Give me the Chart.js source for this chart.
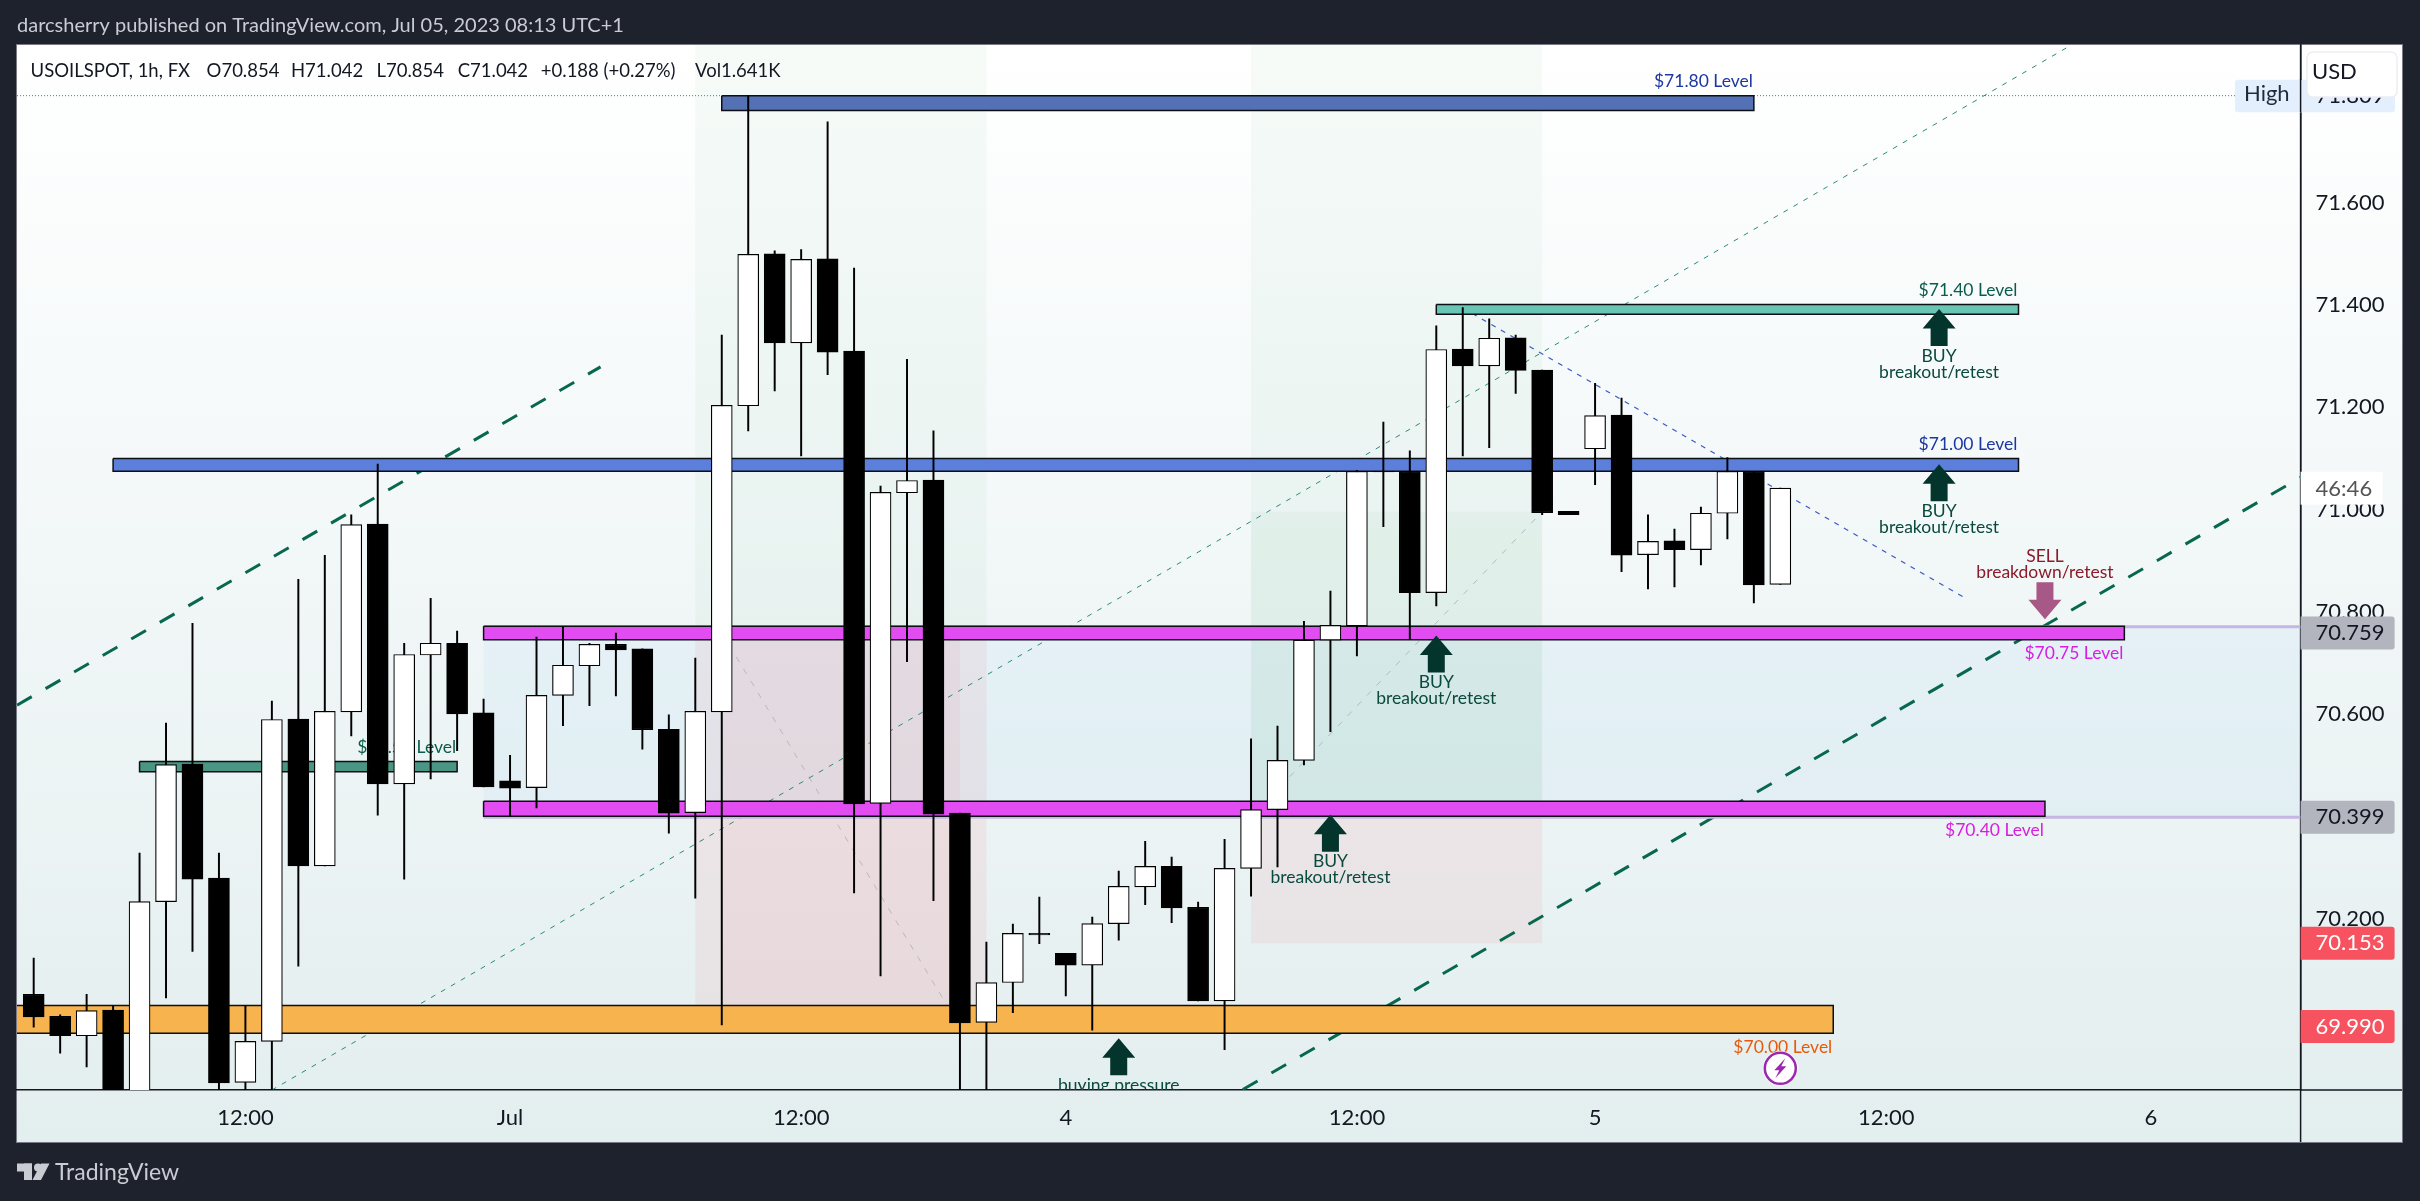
<!DOCTYPE html>
<html lang="en">
  <head>
    <meta charset="UTF-8">
    <title>USOILSPOT 1h chart</title>
    <style>
      html, body { margin: 0; padding: 0; background: #1e222d; }
      canvas { display: block; }
    </style>
  </head>
  <body>
    <canvas id="myChart" width="2420" height="1201"></canvas>

    <script src="https://cdn.jsdelivr.net/npm/chart.js"></script>

    <script>
      // candles, one per hour (first and last few run past the plot edge)
      const opens = [
        70.053, 70.010, 69.972, 70.022, 69.740, 70.234, 70.503, 70.280, 69.881, 69.961,
        70.591, 70.304, 70.605, 70.972, 70.464, 70.716, 70.739, 70.603, 70.470, 70.457,
        70.637, 70.695, 70.737, 70.728, 70.571, 70.408, 70.605, 71.203, 71.500, 71.326,
        71.490, 71.310, 70.426, 71.033, 71.058, 70.407, 69.998, 70.076, 70.172, 70.133,
        70.110, 70.191, 70.263, 70.303, 70.223, 70.040, 70.299, 70.414, 70.510, 70.745,
        70.773, 71.075, 71.075, 70.838, 71.314, 71.281, 71.336, 71.273, 70.997, 71.119,
        71.185, 70.912, 70.939, 70.922, 70.993, 71.075, 70.854
      ];
      const highs = [
        70.124, 70.013, 70.053, 70.030, 70.329, 70.583, 70.778, 70.329, 70.030, 70.626,
        70.864, 70.911, 70.990, 71.089, 70.739, 70.827, 70.763, 70.630, 70.520, 70.751,
        70.771, 70.739, 70.759, 70.728, 70.599, 70.710, 71.341, 71.809, 71.506, 71.508,
        71.758, 71.472, 71.046, 71.294, 71.154, 70.407, 70.155, 70.190, 70.243, 70.133,
        70.204, 70.294, 70.352, 70.321, 70.233, 70.356, 70.552, 70.577, 70.782, 70.841,
        71.077, 71.171, 71.115, 71.359, 71.395, 71.373, 71.341, 71.273, 70.997, 71.247,
        71.218, 70.990, 70.962, 71.005, 71.102, 71.075, 71.042
      ];
      const lows = [
        69.989, 69.938, 69.911, 69.700, 69.700, 70.046, 70.137, 69.850, 69.850, 69.850,
        70.108, 70.304, 70.558, 70.403, 70.278, 70.474, 70.529, 70.458, 70.401, 70.417,
        70.578, 70.617, 70.636, 70.532, 70.368, 70.241, 69.993, 71.154, 71.232, 71.105,
        71.264, 70.251, 70.089, 70.703, 70.236, 69.850, 69.850, 70.017, 70.152, 70.050,
        69.983, 70.159, 70.228, 70.193, 70.040, 69.945, 70.245, 70.302, 70.501, 70.566,
        70.714, 70.967, 70.747, 70.812, 71.105, 71.121, 71.227, 70.990, 70.990, 71.049,
        70.879, 70.845, 70.849, 70.892, 70.943, 70.818, 70.854
      ];
      const closes = [
        70.009, 69.972, 70.021, 69.740, 70.234, 70.502, 70.278, 69.880, 69.961, 70.590,
        70.304, 70.606, 70.971, 70.464, 70.717, 70.739, 70.601, 70.458, 70.456, 70.637,
        70.696, 70.737, 70.726, 70.570, 70.407, 70.606, 71.204, 71.499, 71.326, 71.489,
        71.308, 70.425, 71.034, 71.057, 70.405, 69.997, 70.076, 70.172, 70.169, 70.110,
        70.191, 70.264, 70.303, 70.222, 70.040, 70.299, 70.414, 70.510, 70.745, 70.774,
        71.075, 71.074, 70.838, 71.313, 71.281, 71.335, 71.272, 70.994, 70.990, 71.184,
        70.911, 70.938, 70.922, 70.993, 71.075, 70.853, 71.042
      ];

      // axis ticks
      const timeTickBars = [8, 18, 29, 39, 50, 59, 70, 80];
      const timeTickLabels = ['12:00', 'Jul', '12:00', '4', '12:00', '5', '12:00', '6'];
      const priceTicks = [70.0, 70.2, 70.4, 70.6, 70.8, 71.0, 71.2, 71.4, 71.6, 71.8];

      // drawn levels: name, bars they span, price band
      const levelNames = ['$71.80 Level', '$71.40 Level', '$71.00 Level', '$70.75 Level', '$70.40 Level', '$70.50 Level', '$70.00 Level'];
      const levelFrom = [26, 53, 3, 17, 17, 4, -2];
      const levelTo = [65, 75, 75, 79, 76, 16, 68];
      const levelTop = [71.809, 71.401, 71.100, 70.772, 70.430, 70.508, 70.031];
      const levelBottom = [71.780, 71.382, 71.075, 70.746, 70.401, 70.488, 69.977];

      // trend lines: [bar, price] at both ends
      const channelLow = [[-0.63, 70.618], [21.42, 71.279]];
      const channelHigh = [[45.69, 69.867], [85.7, 71.064]];
      const channelMid = [[9, 69.866], [77, 71.908]];
      const downTrend = [[54, 71.394], [73, 70.827]];

      // the two position tools: bars, entry, target, stop
      const posBars = [[25, 36], [46, 57]];
      const posInnerBars = [[26, 35], [46, 57]];
      const posEntry = [70.759, 70.399];
      const posTarget = [72.0, 70.996];
      const posStop = [69.990, 70.153];

      // arrows and notes
      const buyBars = [53, 72, 72, 49, 41];
      const buyPrices = [70.754, 71.392, 71.089, 70.404, 69.967];
      const buyNotes = [['BUY', 'breakout/retest'], ['BUY', 'breakout/retest'], ['BUY', 'breakout/retest'], ['BUY', 'breakout/retest'], ['buying pressure']];
      const sellBar = 76;
      const sellPrice = 70.786;
      const sellNote = ['SELL', 'breakdown/retest'];

      // price tags on the right axis
      const tagPrices = [70.759, 70.399, 70.153, 69.990];
      const lastPrice = 71.042;
      const highPrice = 71.809;

      const FONT = 'Lato, "Noto Sans", sans-serif';
      const PLOT_MIN_X = -0.631;
      const PLOT_MAX_X = 85.66;
      const PLOT_MIN_Y = 69.866;
      const PLOT_MAX_Y = 71.908;

      const bars = opens.map((o, i) => i);

      function box(x0, x1, top, bottom) {
        return [
          {x: x0, y: top}, {x: x1, y: top}, {x: x1, y: bottom}, {x: x0, y: bottom}, {x: x0, y: top}
        ];
      }

      function shade(x0, x1, top, bottom, color) {
        return {
          type: 'line', data: box(x0, x1, top, bottom), order: 6, clip: 0,
          fill: 'shape', backgroundColor: color, borderWidth: 0, pointRadius: 0, tension: 0
        };
      }

      function level(i, color) {
        return {
          type: 'line', data: box(levelFrom[i], levelTo[i], levelTop[i], levelBottom[i]), order: 2, clip: 0,
          fill: 'shape', backgroundColor: color, borderColor: '#0c0f14', borderWidth: 1.5,
          borderJoinStyle: 'miter', pointRadius: 0, tension: 0
        };
      }

      function trend(points, color, width, dash) {
        return {
          type: 'line', data: points.map(p => ({x: p[0], y: p[1]})), order: 4, clip: 0,
          borderColor: color, borderWidth: width, borderDash: dash, pointRadius: 0, tension: 0, fill: false
        };
      }

      const GREEN = 'rgba(76, 175, 110, 0.05)';
      const PINK = 'rgba(242, 54, 69, 0.07)';

      const datasets = [
        // candles, bodies over wicks
        {
          label: 'Body', data: bars.map(i => ({x: i, y: [opens[i], closes[i]]})), order: 0, clip: 0,
          grouped: false, barThickness: 21, borderWidth: 1.2, borderColor: '#000', borderSkipped: false,
          backgroundColor: bars.map(i => closes[i] >= opens[i] ? '#fff' : '#000')
        },
        {
          label: 'Wick', data: bars.map(i => ({x: i, y: [lows[i], highs[i]]})), order: 1, clip: 0,
          grouped: false, barThickness: 1.3, borderWidth: 0, backgroundColor: '#000'
        },
        level(0, '#5571b6'), level(1, '#69c5b4'), level(2, '#5c7fdb'), level(3, '#e24df1'),
        level(4, '#e24df1'), level(5, '#4b9585'), level(6, '#f7b34d'),
        // lavender lines at the entries, right of the levels
        trend([[17, posEntry[0] + 0.012], [PLOT_MAX_X, posEntry[0] + 0.012]], '#c5b6e6', 3, []),
        trend([[17, posEntry[1]], [PLOT_MAX_X, posEntry[1]]], '#c5b6e6', 3, []),
        trend(channelLow, '#08674f', 3, [17, 16]),
        trend(channelHigh, '#08674f', 3, [17, 16]),
        trend(channelMid, '#2b8a78', 1, [5, 6.5]),
        trend(downTrend, '#3f5bc7', 1.3, [5, 6]),
        trend([[-0.63, highPrice], [PLOT_MAX_X, highPrice]], '#6a6d78', 1, [1, 2]),
        trend([[posInnerBars[0][0], posEntry[0]], [posInnerBars[0][1], posStop[0]]], '#b7b9c0', 1, [6, 8]),
        trend([[posInnerBars[1][0], posEntry[1]], [posInnerBars[1][1], posTarget[1]]], '#b7b9c0', 1, [6, 8]),
        // shaded zones
        shade(17, PLOT_MAX_X, 70.772, 70.399, 'rgba(33, 150, 243, 0.05)'),
        shade(posBars[0][0], posBars[0][1], posTarget[0], posEntry[0], GREEN),
        shade(posBars[0][0], posBars[0][1], posEntry[0], posStop[0], PINK),
        shade(posInnerBars[0][0], posInnerBars[0][1], posEntry[0], posStop[0], 'rgba(242, 54, 69, 0.05)'),
        shade(posBars[1][0], posBars[1][1], PLOT_MAX_Y, posEntry[1], GREEN),
        shade(posInnerBars[1][0], posInnerBars[1][1], posTarget[1], posEntry[1], 'rgba(76, 175, 110, 0.05)'),
        shade(posBars[1][0], posBars[1][1], posEntry[1], posStop[1], PINK)
      ];

      function text(ctx, str, x, y, font, color, align) {
        ctx.font = font;
        ctx.fillStyle = color;
        ctx.textAlign = align || 'left';
        ctx.textBaseline = 'middle';
        ctx.fillText(str, x, y);
      }

      function arrow(ctx, x, tip, dir, color) {
        // dir 1 = points up (body below the tip), -1 = points down
        ctx.fillStyle = color;
        ctx.beginPath();
        ctx.moveTo(x, tip);
        ctx.lineTo(x + 16.5, tip + 19.5 * dir);
        ctx.lineTo(x + 8.5, tip + 19.5 * dir);
        ctx.lineTo(x + 8.5, tip + 37 * dir);
        ctx.lineTo(x - 8.5, tip + 37 * dir);
        ctx.lineTo(x - 8.5, tip + 19.5 * dir);
        ctx.lineTo(x - 16.5, tip + 19.5 * dir);
        ctx.closePath();
        ctx.fill();
      }

      function tag(ctx, x, y, w, h, color) {
        ctx.fillStyle = color;
        ctx.beginPath();
        ctx.roundRect(x, y, w, h, [0, 3, 3, 0]);
        ctx.fill();
      }

      const levelLabelColors = ['#1b37a0', '#0a5c4c', '#1b37a0', '#d81fe0', '#d81fe0', '#0a5c4c', '#e85a0a'];
      const levelLabelAbove = [true, true, true, false, false, true, false];

      const chartPaint = {
        id: 'chartPaint',

        // dark page, chart frame and its vertical gradient
        beforeDraw(chart) {
          const ctx = chart.ctx;
          ctx.save();
          ctx.fillStyle = '#1e222d';
          ctx.fillRect(0, 0, chart.width, chart.height);
          const grad = ctx.createLinearGradient(0, 45, 0, 1142);
          grad.addColorStop(0, '#ffffff');
          grad.addColorStop(1, '#e3eeef');
          ctx.fillStyle = grad;
          ctx.fillRect(17, 45, 2385.5, 1097);
          ctx.strokeStyle = '#787b86';
          ctx.lineWidth = 1;
          ctx.strokeRect(16.5, 44.5, 2386, 1098);
          ctx.strokeStyle = '#131722';
          ctx.lineWidth = 1.5;
          ctx.beginPath();
          ctx.moveTo(2300.6, 45);
          ctx.lineTo(2300.6, 1142);
          ctx.moveTo(2300, 1090);
          ctx.lineTo(2402, 1090);
          ctx.stroke();
          ctx.restore();
        },

        // texts and arrows sit under the candles
        beforeDatasetDraw(chart, args) {
          if (chart.data.datasets[args.index].label !== 'Wick') return;
          const ctx = chart.ctx;
          const xs = chart.scales.x;
          const ys = chart.scales.y;
          const area = chart.chartArea;
          ctx.save();
          ctx.beginPath();
          ctx.rect(area.left, area.top, area.right - area.left, area.bottom - area.top);
          ctx.clip();

          levelNames.forEach((name, i) => {
            const right = xs.getPixelForValue(levelTo[i]) - 1;
            const y = levelLabelAbove[i] ? ys.getPixelForValue(levelTop[i]) - 14 : ys.getPixelForValue(levelBottom[i]) + 14;
            text(ctx, name, right, y, '17.5px ' + FONT, levelLabelColors[i], 'right');
          });

          buyBars.forEach((bar, i) => {
            const x = xs.getPixelForValue(bar);
            const tip = ys.getPixelForValue(buyPrices[i]);
            arrow(ctx, x, tip, 1, '#03352c');
            buyNotes[i].forEach((line, k) => {
              text(ctx, line, x, tip + 47 + k * 16, '17.5px ' + FONT, '#0a4a3e', 'center');
            });
          });

          const sx = xs.getPixelForValue(sellBar);
          const st = ys.getPixelForValue(sellPrice);
          arrow(ctx, sx, st, -1, '#a85887');
          sellNote.forEach((line, k) => {
            text(ctx, line, sx, st - 63 + k * 16, '17.5px ' + FONT, '#8b1a2b', 'center');
          });
          ctx.restore();
        },

        // everything that lies over the chart
        afterDraw(chart) {
          const ctx = chart.ctx;
          const ys = chart.scales.y;
          const axisX = 2300.6;
          ctx.save();

          // High tag
          const hy = ys.getPixelForValue(highPrice);
          ctx.fillStyle = '#e3effd';
          ctx.beginPath();
          ctx.roundRect(2235, hy - 16, 160, 32.5, 3);
          ctx.fill();
          text(ctx, 'High', 2244, hy - 2, '22px ' + FONT, '#1e2b3c');
          text(ctx, highPrice.toFixed(3), axisX + 15, hy, '22px ' + FONT, '#131722');
          ctx.strokeStyle = '#131722';
          ctx.lineWidth = 1.5;
          ctx.beginPath();
          ctx.moveTo(axisX, 79);
          ctx.lineTo(axisX, 112);
          ctx.stroke();

          // USD box
          ctx.fillStyle = '#ffffff';
          ctx.strokeStyle = '#eceef2';
          ctx.lineWidth = 1.5;
          ctx.beginPath();
          ctx.roundRect(2307, 52, 90, 45, 6);
          ctx.fill();
          ctx.stroke();
          text(ctx, 'USD', 2312, 72, '22px ' + FONT, '#131722');

          // countdown
          const ly = ys.getPixelForValue(lastPrice);
          ctx.fillStyle = '#ffffff';
          ctx.fillRect(axisX, ly - 16.5, 82, 33);
          text(ctx, '46:46', axisX + 15, ly + 1, '22px ' + FONT, '#555');

          // price tags
          const tagColors = ['#b2b5be', '#b2b5be', '#f7525f', '#f7525f'];
          const tagText = ['#131722', '#131722', '#fff', '#fff'];
          tagPrices.forEach((p, i) => {
            const y = ys.getPixelForValue(p);
            tag(ctx, axisX, y - 16.5, 94, 33, tagColors[i]);
            text(ctx, p.toFixed(3), axisX + 15, y, '22px ' + FONT, tagText[i]);
          });

          // flash icon
          const fx = 1780.3, fy = 1068.3;
          ctx.fillStyle = '#fff';
          ctx.beginPath();
          ctx.arc(fx, fy, 17.5, 0, Math.PI * 2);
          ctx.fill();
          ctx.strokeStyle = '#9c27b0';
          ctx.lineWidth = 2.5;
          ctx.beginPath();
          ctx.arc(fx, fy, 15.5, 0, Math.PI * 2);
          ctx.stroke();
          ctx.fillStyle = '#9c27b0';
          ctx.beginPath();
          ctx.moveTo(fx + 5, fy - 10);
          ctx.lineTo(fx - 6, fy + 2);
          ctx.lineTo(fx - 1, fy + 2);
          ctx.lineTo(fx - 5, fy + 10);
          ctx.lineTo(fx + 6, fy - 2);
          ctx.lineTo(fx + 1, fy - 2);
          ctx.closePath();
          ctx.fill();

          // legend line at the top
          const legend = [['USOILSPOT, 1h, FX', 30.6], ['O70.854', 206.6], ['H71.042', 291], ['L70.854', 376.5],
            ['C71.042', 457.7], ['+0.188 (+0.27%)', 540.8], ['Vol1.641K', 695]];
          legend.forEach(item => text(ctx, item[0], item[1], 71, '18.5px ' + FONT, '#131722'));

          // title and logo on the dark frame
          text(ctx, 'darcsherry published on TradingView.com, Jul 05, 2023 08:13 UTC+1', 17, 26, '20px ' + FONT, '#c9ccd3');
          ctx.fillStyle = '#c9ccd3';
          ctx.fillRect(17, 1163.5, 15, 8);
          ctx.fillRect(24, 1163.5, 8, 16.5);
          ctx.beginPath();
          ctx.arc(38, 1167.5, 4, 0, Math.PI * 2);
          ctx.fill();
          ctx.beginPath();
          ctx.moveTo(41, 1163.5);
          ctx.lineTo(49.5, 1163.5);
          ctx.lineTo(41, 1180);
          ctx.lineTo(32.5, 1180);
          ctx.closePath();
          ctx.fill();
          text(ctx, 'TradingView', 55, 1173, '23px ' + FONT, '#c9ccd3');
          ctx.restore();
        }
      };

      new Chart(document.getElementById('myChart'), {
        type: 'bar',
        data: {datasets: datasets},
        plugins: [chartPaint],
        options: {
          responsive: false,
          animation: false,
          parsing: {xAxisKey: 'x', yAxisKey: 'y'},
          layout: {padding: {left: 17, top: 45, right: 17.4, bottom: 59}},
          plugins: {legend: {display: false}, tooltip: {enabled: false}},
          scales: {
            x: {
              type: 'linear',
              min: PLOT_MIN_X,
              max: PLOT_MAX_X,
              offset: false,
              grid: {display: false, offset: false, drawTicks: false},
              border: {color: '#131722', width: 1.5},
              afterBuildTicks: scale => { scale.ticks = timeTickBars.map(v => ({value: v})); },
              afterFit: scale => { scale.height = 52; },
              ticks: {
                autoSkip: false,
                maxRotation: 0,
                padding: 15,
                color: '#131722',
                font: {family: FONT, size: 22},
                callback: v => timeTickLabels[timeTickBars.indexOf(v)]
              }
            },
            y: {
              position: 'right',
              min: PLOT_MIN_Y,
              max: PLOT_MAX_Y,
              grid: {display: false, drawTicks: false},
              border: {color: '#131722', width: 1.5},
              afterBuildTicks: scale => { scale.ticks = priceTicks.map(v => ({value: v})); },
              afterFit: scale => { scale.width = 102; },
              ticks: {
                padding: 15,
                color: '#131722',
                font: {family: FONT, size: 22},
                callback: v => v.toFixed(3)
              }
            }
          }
        }
      });
    </script>
  </body>
</html>
